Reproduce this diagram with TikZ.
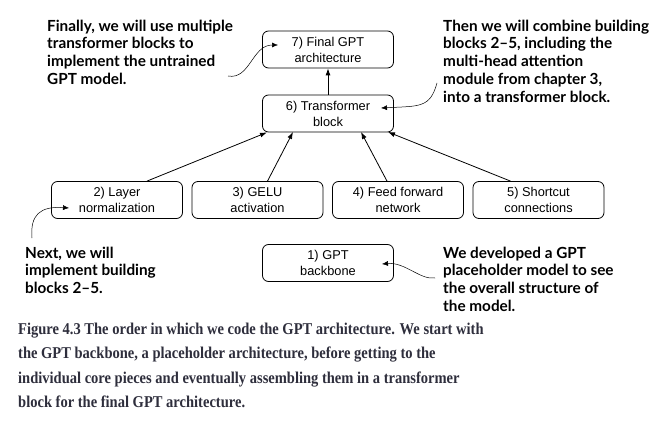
\documentclass[tikz,border=0pt]{standalone}
\usepackage{fontspec}
\setmainfont{Liberation Sans}
\newfontfamily\notefont{Lato}
\newfontfamily\capfont[FakeStretch=0.88]{Liberation Serif}
\usetikzlibrary{arrows.meta}
\definecolor{capgray}{HTML}{2E2E3C}

\begin{document}
\begin{tikzpicture}[x=1pt, y=-1pt,
        % Estilo para los bloques del modelo
        block/.style={draw, rounded corners=6pt, minimum width=131pt, minimum height=37pt,
            align=center, font=\fontsize{12.8}{16}\selectfont, line width=0.8pt},
        % Estilo para las notas explicativas
        note/.style={anchor=north west, align=left, inner sep=0pt,
            font=\fontsize{15.3}{17.8}\notefont\bfseries\selectfont},
        % Estilo para las flechas entre bloques
        link/.style={-{Latex[length=7pt, width=5pt]}, line width=0.8pt},
        % Estilo para las flechas curvas de las notas
        pointer/.style={-{Latex[length=6pt, width=5pt]}, line width=0.5pt},
        % Estilo para el pie de figura
        caption/.style={anchor=north west, align=left, inner sep=0pt, text=capgray,
            font=\fontsize{16.5}{24.2}\capfont\bfseries\selectfont}
    ]
        \useasboundingbox (0,0) rectangle (669,425);

        % --- Bloques del modelo ---
        \node[block] (final) at (328,49.5) {7) Final GPT\\architecture};
        \node[block] (trf) at (328,113.5) {6) Transformer\\block};
        \node[block] (norm) at (117,200) {2) Layer\\normalization};
        \node[block] (gelu) at (257.5,200) {3) GELU\\activation};
        \node[block] (ffn) at (398,200) {4) Feed forward\\network};
        \node[block] (short) at (538.5,200) {5) Shortcut\\connections};
        \node[block] (backbone) at (328,263) {1) GPT\\backbone};

        % --- Flechas entre bloques ---
        \draw[link] (trf) -- (final);
        \draw[link] (norm.north) ++(30,0) -- (trf.south west -| 267,0);
        \draw[link] (gelu.north) ++(10,0) -- (293,132);
        \draw[link] (ffn.north) ++(-11,0) -- (361,132);
        \draw[link] (short.north) ++(-28,0) -- (388,132);

        % --- Notas explicativas ---
        \node[note] (nfinal) at (47,19.5) {Finally, we will use multiple\\transformer blocks to\\implement the untrained\\GPT model.};
        \node[note] (ntrf) at (443,19.5) {Then we will combine building\\blocks 2–5, including the\\multi-head attention\\module from chapter 3,\\into a transformer block.};
        \node[note] (nnorm) at (25,246.5) {Next, we will\\implement building\\blocks 2–5.};
        \node[note] (nback) at (443,246.5) {We developed a GPT\\placeholder model to see\\the overall structure of\\the model.};

        % --- Flechas curvas de las notas ---
        \coordinate (t7) at (278,45);
        \coordinate (t6) at (381,108);
        \coordinate (t2) at (69,208);
        \coordinate (t1) at (382,264);
        \draw[pointer] (228,76) .. controls (250,80) and (252,45) .. (t7);
        \draw[pointer] (437,83) .. controls (430,108) and (420,106) .. (t6);
        \draw[pointer] (32,238) .. controls (30,215) and (40,206) .. (t2);
        \draw[pointer] (435,278) .. controls (420,280) and (405,262) .. (t1);

        % --- Pie de figura ---
        \node[caption] (cap) at (18,323) {Figure 4.3 The order in which we code the GPT architecture. We start with\\
            the GPT backbone, a placeholder architecture, before getting to the\\
            individual core pieces and eventually assembling them in a transformer\\
            block for the final GPT architecture.};
    \end{tikzpicture}
\end{document}
